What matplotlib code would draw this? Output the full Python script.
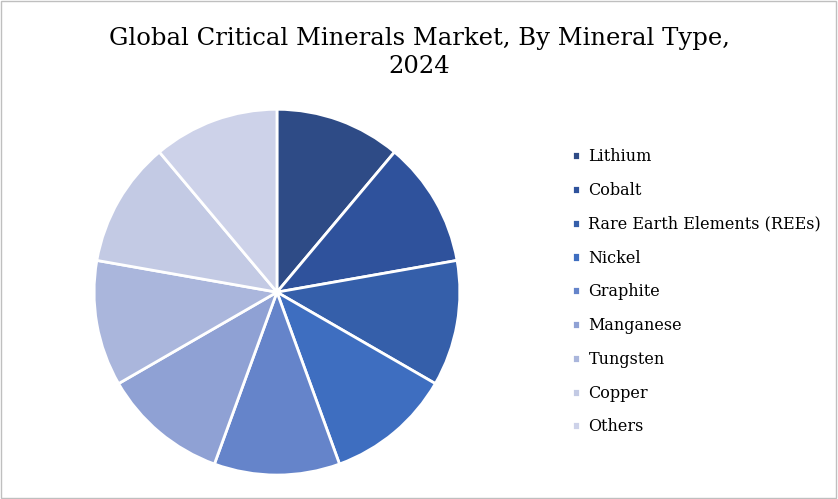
import matplotlib
matplotlib.use("Agg")
import matplotlib.pyplot as plt
from matplotlib.patches import Rectangle

categories = ["Lithium", "Cobalt", "Rare Earth Elements (REEs)", "Nickel", "Graphite",
              "Manganese", "Tungsten", "Copper", "Others"]
values = [11.1, 11.1, 11.1, 11.1, 11.1, 11.1, 11.1, 11.1, 11.1]
colors = ["#2E4B86", "#2F529C", "#355FAA", "#3E6EC0", "#6584CA",
          "#8FA1D4", "#AAB6DC", "#C3CAE4", "#CDD2E9"]

plt.rcParams["font.family"] = "DejaVu Serif"
fig = plt.figure(figsize=(8.38, 4.99), dpi=100)
fig.patches.append(Rectangle((0.001, 0.002), 0.997, 0.996, transform=fig.transFigure,
                             fill=False, edgecolor="#BFBFBF", linewidth=1))
fig.text(0.5, 0.895, "Global Critical Minerals Market, By Mineral Type,\n2024",
         ha="center", va="center", fontsize=17.5, linespacing=1.25)

ax = fig.add_axes([0.112, 0.048, 0.437, 0.733])
wedges, _ = ax.pie(values, colors=colors, startangle=90, counterclock=False,
                   wedgeprops=dict(edgecolor="white", linewidth=2))
ax.set_xlim(-1.0, 1.0)
ax.set_ylim(-1.0, 1.0)
ax.set_aspect("equal")

fig.legend(wedges, categories, loc="center left", bbox_to_anchor=(0.665, 0.415),
           frameon=False, fontsize=11.5, handlelength=0.5, handleheight=0.5,
           handletextpad=0.55, labelspacing=1.05)
fig.savefig("out.png", dpi=100)
